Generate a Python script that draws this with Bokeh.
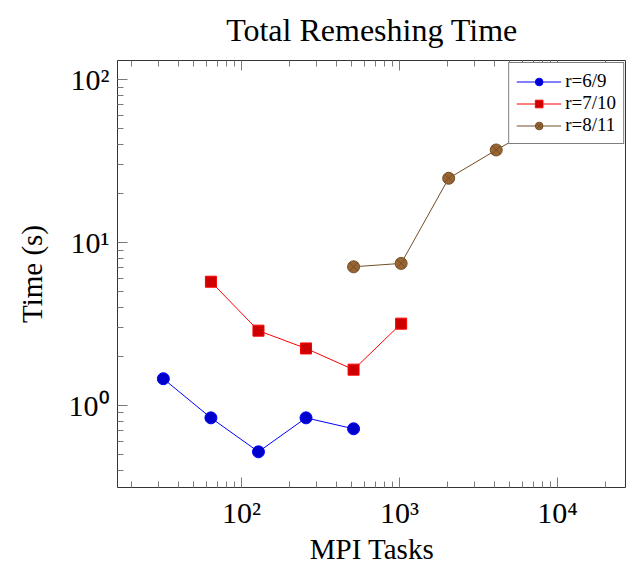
from bokeh.plotting import figure
from bokeh.models import (LogAxis, FixedTicker, Legend, LegendItem, Title,
                          Range1d)
from bokeh.embed import file_html
from bokeh.resources import INLINE

# ---- data ----
tasks_r69 = [32, 64, 128, 256, 512]
time_r69 = [1.46, 0.84, 0.52, 0.84, 0.72]

tasks_r710 = [64, 128, 256, 512, 1024]
time_r710 = [5.75, 2.88, 2.24, 1.66, 3.18]

tasks_r811 = [512, 1024, 2048, 4096, 8192]
time_r811 = [7.1, 7.45, 24.8, 37.0, 54.0]

labels = ["r=6/9", "r=7/10", "r=8/11"]

x_major = [100, 1000, 10000]
x_major_labels = ["10²", "10³", "10⁴"]
y_major = [1, 10, 100]
y_major_labels = ["10⁰", "10¹", "10²"]

x_minor = [m * 10 ** e for e in range(1, 5) for m in range(2, 10)]
y_minor = [m * 10.0 ** e for e in range(-1, 3) for m in range(2, 10)]

X_LIM = (16.4, 27350)
Y_LIM = (0.314, 131)

FONT = "Liberation Serif"
TICK_COLOR = "#7a7a7a"

p = figure(width=626, height=568, x_axis_type="log", y_axis_type="log",
           x_range=Range1d(*X_LIM), y_range=Range1d(*Y_LIM),
           output_backend="svg", toolbar_location=None, title=None,
           min_border_left=117, min_border_right=0, min_border_top=57,
           min_border_bottom=81)
p.grid.visible = False
p.outline_line_color = "#333333"
p.outline_line_width = 1
p.background_fill_color = "white"
p.border_fill_color = "white"


def style_axis(ax, ticks, minor, lab, show_labels=True):
    ax.ticker = FixedTicker(ticks=ticks, minor_ticks=minor)
    ax.axis_line_color = None
    ax.major_tick_in = 10
    ax.major_tick_out = 0
    ax.minor_tick_in = 6
    ax.minor_tick_out = 0
    ax.major_tick_line_color = TICK_COLOR
    ax.minor_tick_line_color = TICK_COLOR
    ax.major_tick_line_width = 1
    ax.minor_tick_line_width = 1
    if show_labels:
        ax.major_label_overrides = {t: s for t, s in zip(ticks, lab)}
        ax.major_label_text_font = FONT
        ax.major_label_text_font_size = "30px"
        ax.major_label_text_color = "black"
    else:
        ax.major_label_overrides = {t: "" for t in ticks}
        ax.major_label_text_font_size = "0px"
        ax.major_label_text_alpha = 0
        ax.major_label_standoff = 0
        ax.axis_label = None
        ax.axis_label_standoff = 0
        ax.axis_label_text_font_size = "0px"


xa = p.xaxis[0]
ya = p.yaxis[0]
style_axis(xa, x_major, x_minor, x_major_labels)
style_axis(ya, y_major, y_minor, y_major_labels)
xa.major_label_standoff = 8
ya.major_label_standoff = 8
xa.axis_label = "MPI Tasks"
ya.axis_label = "Time (s)"
for ax in (xa, ya):
    ax.axis_label_text_font = FONT
    ax.axis_label_text_font_size = "29px"
    ax.axis_label_text_font_style = "normal"
    ax.axis_label_text_color = "black"
xa.axis_label_standoff = 1
ya.axis_label_standoff = 18

top_ax = LogAxis()
style_axis(top_ax, x_major, x_minor, None, show_labels=False)
p.add_layout(top_ax, "above")

p.add_layout(Title(text="Total Remeshing Time", text_font=FONT,
                   text_font_size="32px", text_font_style="normal",
                   text_color="black", align="center", standoff=22,
                   vertical_align="top"), "above")

series = [
    (tasks_r69, time_r69, "#0000ff", "#0000cc", "circle", 12),
    (tasks_r710, time_r710, "#ff0000", "#cc0000", "square", 11),
    (tasks_r811, time_r811, "#734d26", "#996633", "circle_x", 12),
]
items = []
for (xs, ys, lc, fc, mk, sz), lab in zip(series, labels):
    ln = p.line(xs, ys, line_color=lc, line_width=1)
    sc = p.scatter(xs, ys, marker=mk, size=sz, fill_color=fc,
                   line_color=lc, line_width=1)
    items.append(LegendItem(label=lab, renderers=[ln, sc]))

legend = Legend(items=items, location="top_right")
legend.label_text_font = FONT
legend.label_text_font_size = "19px"
legend.label_text_color = "black"
legend.border_line_color = "black"
legend.border_line_width = 1
legend.glyph_width = 45
legend.glyph_height = 19
legend.spacing = 0
legend.padding = 7
legend.margin = 2
legend.label_standoff = 4
legend.background_fill_alpha = 1
p.add_layout(legend)

open("out.html", "w").write(file_html(p, INLINE))
